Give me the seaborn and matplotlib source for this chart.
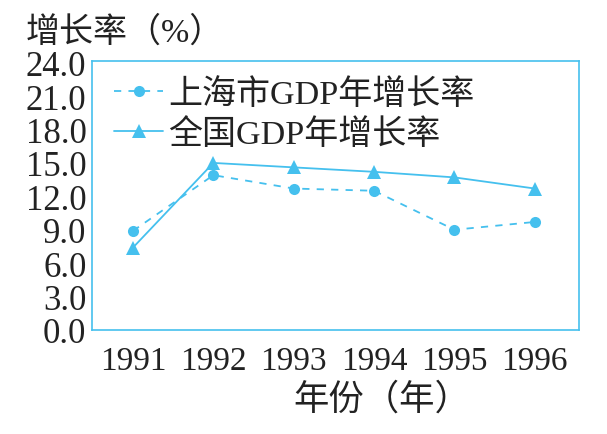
import matplotlib
matplotlib.use("Agg")
import matplotlib.pyplot as plt
import seaborn as sns
import pandas as pd
import numpy as np

years = ["1991", "1992", "1993", "1994", "1995", "1996"]
shanghai = [8.9, 13.9, 12.7, 12.5, 9.0, 9.7]
national = [7.4, 15.0, 14.6, 14.2, 13.7, 12.7]
yticks = [0.0, 3.0, 6.0, 9.0, 12.0, 15.0, 18.0, 21.0, 24.0]
label_sh = "上海市GDP年增长率"
label_cn = "全国GDP年增长率"

sns.set_style("white")
plt.rcParams['font.family'] = ['Liberation Serif', 'Noto Sans CJK SC', 'DejaVu Sans']

color = "#45c0ee"
text_color = "#222222"

df = pd.DataFrame({"pos": np.arange(len(years)), "sh": shanghai, "cn": national})

fig = plt.figure(figsize=(6.07, 4.35), dpi=100)
ax = fig.add_axes([92/607, 1 - 331/435, (579-92)/607, (331-62)/435])

sns.lineplot(data=df, x="pos", y="sh", ax=ax, color=color, linestyle=(0, (4, 4)),
             linewidth=1.3, marker="o", markersize=8, markeredgewidth=0, label=label_sh)
sns.lineplot(data=df, x="pos", y="cn", ax=ax, color=color, linestyle="-",
             linewidth=1.3, marker="^", markersize=10, markeredgewidth=0, label=label_cn)

ax.set_xlim(-0.51, 5.55)
ax.set_ylim(0, 24.15)
ax.set_xticks(np.arange(len(years)))
ax.set_xticklabels(years, fontsize=24, color=text_color)
ax.set_xticks(np.arange(len(years) - 1) + 0.52, minor=True)
ax.tick_params(axis="x", which="major", length=0, pad=11)
ax.tick_params(axis="x", which="minor", direction="in", length=6, color=color, width=1)
ax.set_yticks(yticks)
ax.set_yticklabels([f"{v:.1f}" for v in yticks], fontsize=25, color=text_color)
ax.tick_params(axis="y", direction="in", length=7, color=color, width=1, pad=4)
ax.set_xlabel("")
ax.set_ylabel("")
for s in ax.spines.values():
    s.set_color(color)
    s.set_linewidth(1.2)

leg = ax.legend(loc="upper left", bbox_to_anchor=(0.01, 1.0), frameon=False,
                fontsize=24.5, handlelength=1.45, handletextpad=0.15, labelspacing=0.25,
                borderaxespad=0.1)
for t in leg.get_texts():
    t.set_color(text_color)

fig.text(26/607, 1 - 33/435, "增长率（%）", fontsize=24.5, color=text_color,
         ha="left", va="center")
fig.text(382/607, 1 - 401/435, "年份（年）", fontsize=25.5, color=text_color,
         ha="center", va="center")

fig.savefig("out.png", dpi=100, facecolor="white")
